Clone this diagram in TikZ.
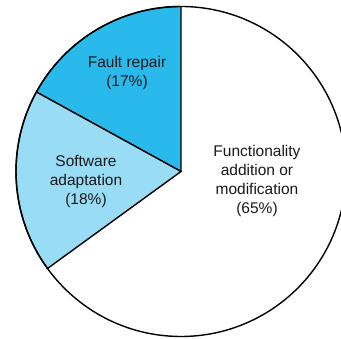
\documentclass[tikz,border=0pt]{standalone}
\usepackage{fontspec}
\setmainfont{Liberation Sans}
\definecolor{faultblue}{RGB}{41,185,235}
\definecolor{adaptblue}{RGB}{153,220,245}
\definecolor{txt}{RGB}{25,25,25}
\begin{document}
\begin{tikzpicture}[x=1pt,y=1pt,
  slice/.style={draw=black,line width=1.4pt,line join=round},
  lbl/.style={align=center,font=\fontsize{15.5}{19}\selectfont,text=txt,inner sep=0pt}]
\useasboundingbox (0,0) rectangle (341,339);
\coordinate (c) at (181,167.5);
\def\R{165}
\fill[white] (c) circle (\R);
\filldraw[slice,fill=faultblue] (c) -- ++(90:\R) arc (90:151.2:\R) -- cycle;
\filldraw[slice,fill=adaptblue] (c) -- ++(151.2:\R) arc (151.2:216:\R) -- cycle;
\draw[slice] (c) circle (\R);
\node[lbl] (fault) at (127,266) {Fault repair\\(17\%)};
\node[lbl] (adapt) at (86,157) {Software\\adaptation\\(18\%)};
\node[lbl] (func) at (257,158) {Functionality\\addition or\\modification\\(65\%)};
\end{tikzpicture}
\end{document}
